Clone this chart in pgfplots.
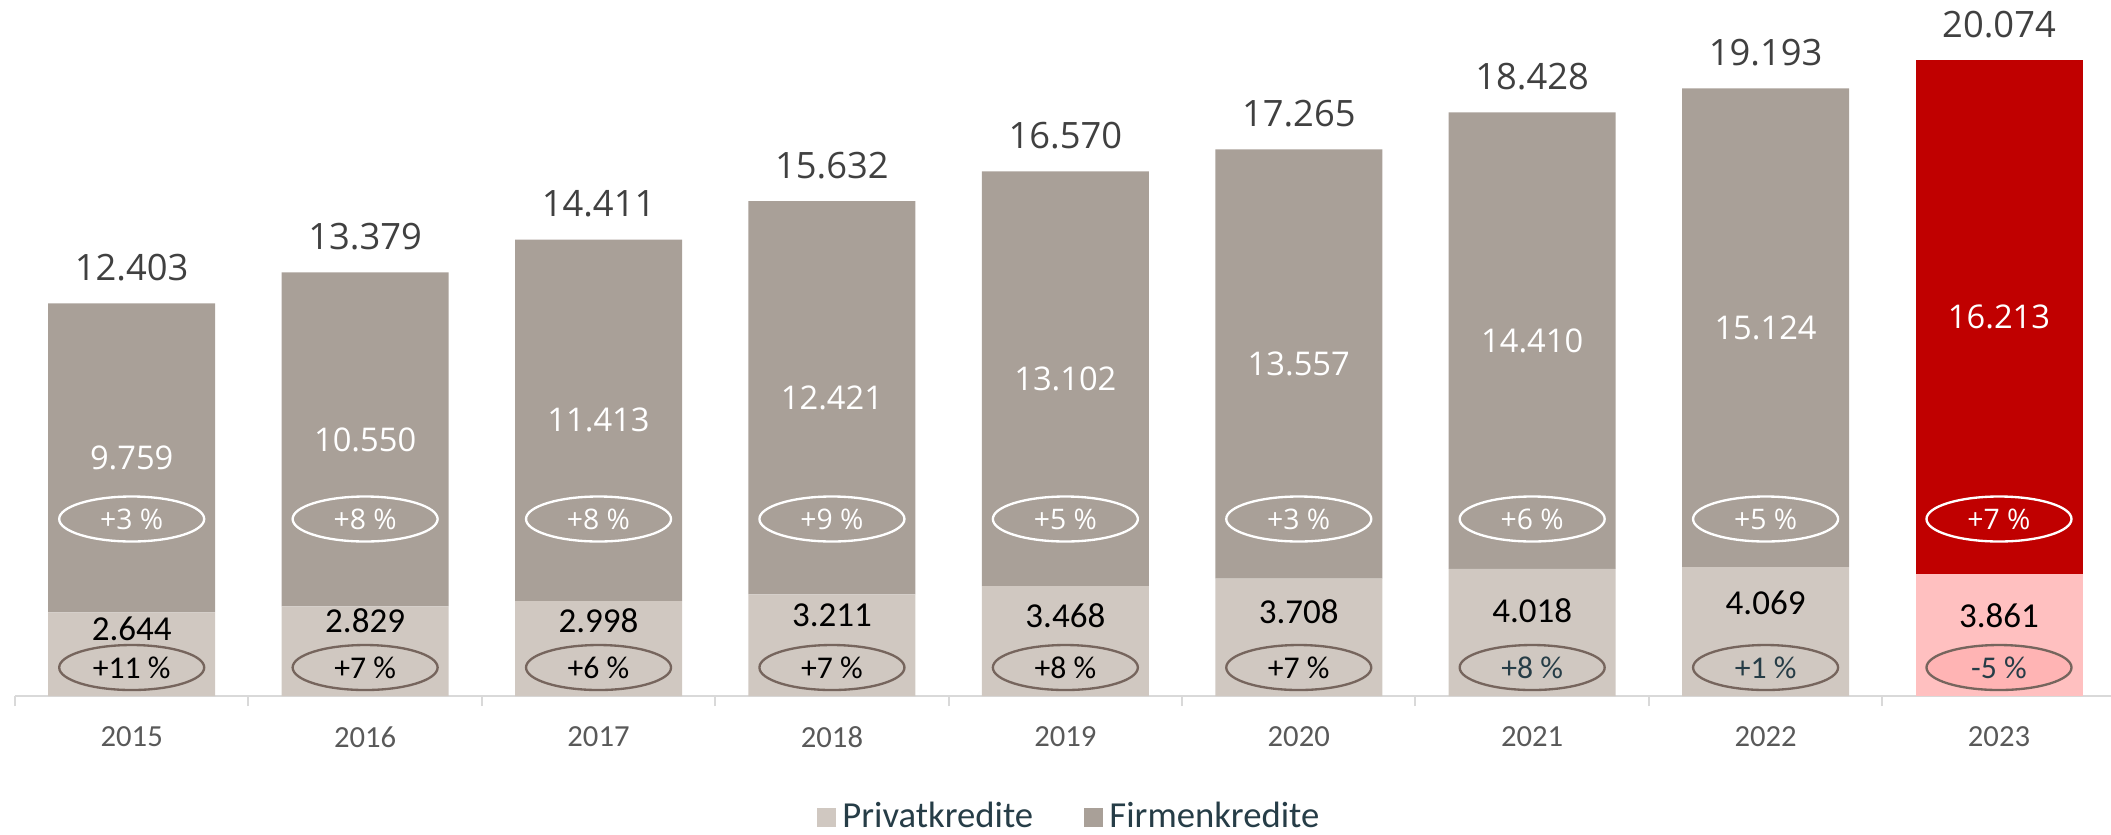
\documentclass[border=0pt]{standalone}
\usepackage{pgfplots}
\pgfplotsset{compat=1.18}
\usepackage{pgfplotstable}
\usepackage{fontspec}
\setmainfont{Carlito}
\newfontfamily\osans{Open Sans}
\usetikzlibrary{shapes.geometric}

\definecolor{firm}{HTML}{A9A098}
\definecolor{priv}{HTML}{D0C8C1}
\definecolor{firmred}{HTML}{C00000}
\definecolor{privred}{HTML}{FFC0C0}
\definecolor{ringfill}{HTML}{FFB4B4}
\definecolor{ringbrown}{HTML}{76655D}
\definecolor{slate}{HTML}{263D47}
\definecolor{totgray}{HTML}{404040}
\definecolor{tickgray}{HTML}{595959}
\definecolor{axisgray}{HTML}{D9D9D9}

% i = position, ly = height of the Privatkredite label, pp/fp = growth
\pgfplotstableread{
i year priv firm ly pp fp
0 2015 2644 9759 2110 +11 +3
1 2016 2829 10550 2390 +7 +8
2 2017 2998 11413 2390 +6 +8
3 2018 3211 12421 2550 +7 +9
4 2019 3468 13102 2550 +8 +5
5 2020 3708 13557 2650 +7 +3
6 2021 4018 14410 2710 +8 +6
7 2022 4069 15124 2930 +1 +5
8 2023 3861 16213 2550 -5 +7
}\data

\tikzset{ring/.style={ellipse, inner sep=0pt, minimum width=43.5pt, minimum height=13.5pt}}

\pgfplotsset{
  base/.style={
    at={(0,0)}, anchor=south west, scale only axis,
    width=628.8pt, height=208.8pt,
    xmin=-0.5, xmax=8.48, ymin=0, ymax=21980,
    clip=false,
    /pgf/number format/fixed,
    /pgf/number format/precision=0,
    /pgf/number format/1000 sep={.},
    /pgf/number format/assume math mode=true,
  },
}

\begin{document}
\begin{tikzpicture}
\begin{axis}[base,
  ybar stacked, bar width=50.1pt,
  axis x line*=bottom, axis y line=none,
  x axis line style={draw=axisgray, line width=0.6pt},
  xtick={0,...,8},
  xticklabels from table={\data}{year},
  major tick length=0pt,
  minor xtick={-0.5,0.5,...,7.5},
  minor tick length=3pt,
  tick align=outside,
  minor tick style={draw=axisgray, line width=0.6pt},
  xticklabel style={anchor=center, yshift=-12.3pt, font=\fontsize{9.2}{11}\selectfont, text=tickgray},
  legend style={at={(0.504,-0.174)}, anchor=center, draw=none, legend columns=2,
    font=\fontsize{11}{13}\selectfont, text=slate,
    /tikz/every even column/.append style={column sep=13.2pt}},
  legend image code/.code={\fill[#1] (0pt,-2.85pt) rectangle (5.7pt,2.85pt);},
]
\addplot[fill=priv, draw=none] table[x=i, y expr={\thisrow{i}<8 ? \thisrow{priv} : 0}]{\data};
\addplot[fill=firm, draw=none] table[x=i, y expr={\thisrow{i}<8 ? \thisrow{firm} : 0}]{\data};
\addplot[fill=privred, draw=none] table[x=i, y expr={\thisrow{i}<8 ? 0 : \thisrow{priv}}]{\data};
\addplot[fill=firmred, draw=none] table[x=i, y expr={\thisrow{i}<8 ? 0 : \thisrow{firm}}]{\data};
\legend{Privatkredite, Firmenkredite}
\end{axis}

\begin{axis}[base, hide axis]
% totals
\addplot[draw=none, mark=none, nodes near coords, point meta=y,
  every node near coord/.append style={anchor=base, yshift=6.9pt,
    font=\osans\fontsize{10.9}{13}\selectfont, text=totgray}]
  table[x=i, y expr=\thisrow{priv}+\thisrow{firm}]{\data};
% Firmenkredite values
\addplot[draw=none, mark=none, nodes near coords, point meta=explicit,
  every node near coord/.append style={anchor=center,
    font=\osans\fontsize{9.8}{12}\selectfont, text=white}]
  table[x=i, y expr=\thisrow{priv}+0.5*\thisrow{firm}, meta=firm]{\data};
% Firmenkredite growth
\addplot[draw=none, mark=none, nodes near coords={\pgfplotspointmeta~\%},
  point meta=explicit symbolic,
  every node near coord/.append style={ring, anchor=center, draw=white, line width=0.7pt,
    font=\osans\fontsize{8.5}{10}\selectfont, text=white}]
  table[x=i, y expr=5590, meta=fp]{\data};
% Privatkredite values
\addplot[draw=none, mark=none, nodes near coords, point meta=explicit,
  every node near coord/.append style={anchor=center,
    font=\fontsize{10.5}{12}\selectfont, text=black}]
  table[x=i, y=ly, meta=priv]{\data};
% Privatkredite growth
\addplot[draw=none, mark=none, restrict x to domain=0:5,
  nodes near coords={\pgfplotspointmeta~\%}, point meta=explicit symbolic,
  every node near coord/.append style={ring, anchor=center, draw=ringbrown, line width=0.7pt,
    font=\fontsize{9.5}{11}\selectfont, text=black}]
  table[x=i, y expr=900, meta=pp]{\data};
\addplot[draw=none, mark=none, restrict x to domain=6:7,
  nodes near coords={\pgfplotspointmeta~\%}, point meta=explicit symbolic,
  every node near coord/.append style={ring, anchor=center, draw=ringbrown, line width=0.7pt,
    font=\fontsize{9.5}{11}\selectfont, text=slate}]
  table[x=i, y expr=900, meta=pp]{\data};
\addplot[draw=none, mark=none, restrict x to domain=8:8,
  nodes near coords={\pgfplotspointmeta~\%}, point meta=explicit symbolic,
  every node near coord/.append style={ring, anchor=center, draw=ringbrown, fill=ringfill, line width=0.7pt,
    font=\fontsize{9.5}{11}\selectfont, text=slate}]
  table[x=i, y expr=900, meta=pp]{\data};
\end{axis}
\pgfresetboundingbox
\useasboundingbox (-4.5pt,-41.4pt) rectangle (628.8pt,208.8pt);
\end{tikzpicture}
\end{document}
